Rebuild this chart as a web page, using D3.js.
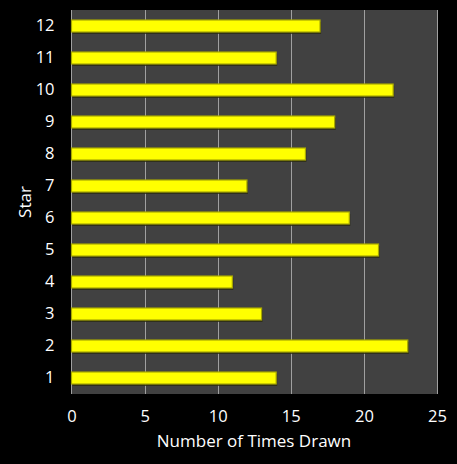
<!DOCTYPE html>
<html>
<head>
<meta charset="utf-8">
<script src="https://cdn.jsdelivr.net/npm/d3@7"></script>
<style>
  body { margin: 0; background: #000; }
  svg text { font-family: "Open Sans", "DejaVu Sans", sans-serif; fill: #fff; }
</style>
</head>
<body>
<div id="chart"></div>
<script>
var stars = ["1", "2", "3", "4", "5", "6", "7", "8", "9", "10", "11", "12"]
var timesDrawn = [14, 23, 13, 11, 21, 19, 12, 16, 18, 22, 14, 17]
var xTicks = [0, 5, 10, 15, 20, 25]

var WIDTH = 457, HEIGHT = 464
var LEFT = 71.5, TOP = 10, RIGHT = 437, BOTTOM = 394

var data = stars.map((s, i) => ({star: s, value: timesDrawn[i]}))

const svg = d3.select("#chart").append("svg").attr("width", WIDTH).attr("height", HEIGHT)
svg.append("rect").attr("width", WIDTH).attr("height", HEIGHT).attr("fill", "#000")

const x_scale = d3.scaleLinear().domain([0, 25]).range([LEFT, RIGHT])
const y_scale = d3.scaleBand().domain(stars.slice().reverse()).range([TOP, BOTTOM])
    .paddingInner(0.625).paddingOuter(0.3125)

// plot background
svg.append("rect").attr("x", LEFT).attr("y", TOP).attr("width", RIGHT - LEFT).attr("height", BOTTOM - TOP).attr("fill", "#414141")

// gridlines
svg.selectAll("line.grid").data(xTicks.slice(1)).enter().append("line").attr("class", "grid")
    .attr("x1", d => Math.round(x_scale(d)) + 0.5).attr("x2", d => Math.round(x_scale(d)) + 0.5)
    .attr("y1", TOP).attr("y2", BOTTOM).attr("stroke", "#a0a0a0").attr("stroke-width", 1)

// left axis line
svg.append("line").attr("x1", LEFT).attr("x2", LEFT).attr("y1", TOP).attr("y2", BOTTOM).attr("stroke", "#a0a0a0")

// bars with a dark shadow underneath
svg.selectAll("rect.shadow").data(data).enter().append("rect").attr("class", "shadow")
    .attr("x", LEFT + 1).attr("y", d => y_scale(d.star) + 2)
    .attr("width", d => x_scale(d.value) - LEFT).attr("height", y_scale.bandwidth())
    .attr("fill", "#2a2a10").attr("opacity", 0.8)

svg.selectAll("rect.bar").data(data).enter().append("rect").attr("class", "bar")
    .attr("x", LEFT).attr("y", d => y_scale(d.star))
    .attr("width", d => x_scale(d.value) - LEFT).attr("height", y_scale.bandwidth())
    .attr("fill", "#ffff00").attr("stroke", "#a8a800").attr("stroke-width", 1.2)

// axes
const gen_x = d3.axisBottom(x_scale).tickValues(xTicks).tickSize(0).tickPadding(16)
const xg = svg.append("g").attr("transform", "translate(0," + BOTTOM + ")").call(gen_x)
xg.select(".domain").remove()
xg.selectAll("text").style("font-size", "16.5px").attr("fill", "#fff")

const gen_y = d3.axisLeft(y_scale).tickSize(0).tickPadding(17)
const yg = svg.append("g").attr("transform", "translate(" + LEFT + ",0)").call(gen_y)
yg.select(".domain").remove()
yg.selectAll("text").style("font-size", "16.5px").attr("fill", "#fff")

// labels
svg.append("text").attr("x", 254).attr("y", 447).attr("text-anchor", "middle")
    .style("font-size", "17px").text("Number of Times Drawn")
svg.append("text").attr("transform", "translate(31," + ((TOP + BOTTOM) / 2) + ") rotate(-90)")
    .attr("text-anchor", "middle").style("font-size", "17px").text("Star")
</script>
</body>
</html>
